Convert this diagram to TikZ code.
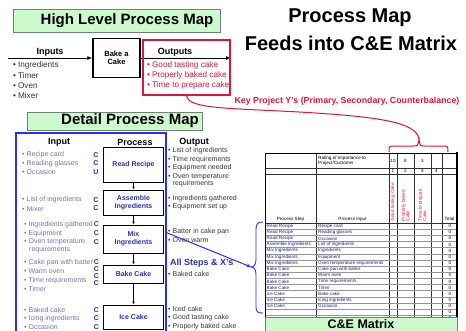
\documentclass[tikz,border=0pt]{standalone}
\usepackage{fontspec}
\setmainfont{Liberation Sans}
\usetikzlibrary{arrows.meta}
\definecolor{hdrgreen}{RGB}{204,250,204}
\definecolor{hdrline}{RGB}{110,130,110}
\definecolor{keyred}{RGB}{222,22,60}
\definecolor{mapblue}{RGB}{45,45,245}
\definecolor{stepblue}{RGB}{40,50,175}
\definecolor{ingray}{RGB}{115,120,165}
\definecolor{outgray}{RGB}{55,55,55}
\definecolor{rowblue}{RGB}{30,30,125}
\definecolor{gridgray}{RGB}{150,150,150}
\newcommand{\fs}[1]{\fontsize{#1}{#1}\selectfont}
\begin{document}
\begin{tikzpicture}[x=1pt,y=-1pt,
  banner/.style={draw=hdrline,fill=hdrgreen,line width=0.6pt},
  bannertext/.style={font=\bfseries\fs{15},inner sep=0},
  colhead/.style={font=\bfseries\fs{9},inner sep=0},
  hlitem/.style={font=\fs{8.2},text=outgray,inner sep=0,anchor=west},
  hlred/.style={font=\fs{8.2},text=keyred,inner sep=0,anchor=west},
  initem/.style={font=\fs{7},text=ingray,inner sep=0,anchor=west},
  outitem/.style={font=\fs{7},text=outgray,inner sep=0,anchor=west},
  rating/.style={font=\bfseries\fs{7},text=stepblue,inner sep=0},
  stepbox/.style={draw=black,line width=1pt,minimum width=60pt,align=center,
    font=\bfseries\fs{7},text=stepblue,inner sep=1pt},
  flow/.style={-{Latex[length=3pt,width=2.6pt]},line width=0.7pt},
  cell/.style={font=\fs{4.6},inner sep=0},
  cellline/.style={line width=0.5pt,draw=black!80},
  rowline/.style={line width=0.35pt,draw=gridgray},
  vhead/.style={font=\fs{4.6},text=keyred,inner sep=0,rotate=90,anchor=west,align=left}
]
\clip (0,0) rectangle (466,330);

% ---------- high level process map ----------
\draw[banner] (13,9) rectangle (220,32);
\node[bannertext] (hltitle) at (127,21) {High Level Process Map};

\node[draw=black,line width=1.2pt,minimum width=47pt,minimum height=39pt,
      align=center,font=\bfseries\fs{7.5},inner sep=0] (bake) at (116.5,58) {Bake a\\[1pt]Cake};
\coordinate (hlstart) at (8,58);
\coordinate (hlend) at (231,58);
\draw[line width=1pt,-{Latex[length=5pt,width=4pt]}] (hlstart) -- (bake.west);
\draw[line width=1pt,-{Latex[length=5pt,width=4pt]}] (bake.east) -- (hlend);
\node[draw=keyred,line width=1.4pt,minimum width=87pt,minimum height=55pt] (outbox) at (186.5,67.5) {};

\node[colhead,anchor=base] (hlin) at (50,54) {Inputs};
\node[colhead,anchor=base] (hlout) at (175,54) {Outputs};
\foreach \t [count=\i] in {Ingredients,Timer,Oven,Mixer}
  \node[hlitem] (hli\i) at (13,56+9.8*\i) {\textbullet\hspace{2pt}\t};
\foreach \t [count=\i] in {Good tasting cake,Properly baked cake,Time to prepare cake}
  \node[hlred] (hlo\i) at (147,56+9.8*\i) {\textbullet\hspace{2pt}\t};

% ---------- headline ----------
\node[font=\bfseries\fs{20},inner sep=0] (title1) at (350,18) {Process Map};
\node[font=\bfseries\fs{20},inner sep=0] (title2) at (351,43) {Feeds into C\&E Matrix};
\node[font=\bfseries\fs{8.8},text=keyred,inner sep=0] (keyy) at (347,101)
  {Key Project Y's (Primary, Secondary, Counterbalance)};

% red brace over the output columns
\coordinate (rtip) at (419,139);
\draw[keyred,line width=1pt] (389,152) .. controls (389,146) .. (395,146) -- (413,146)
  .. controls (418,146) .. (rtip) .. controls (420,146) .. (425,146) -- (442,146)
  .. controls (448,146) .. (448,152);
\draw[keyred,line width=1pt] (outbox.south) .. controls (188,107) and (215,108) .. (280,111)
  .. controls (380,116) and (416,122) .. (rtip);

% ---------- detail process map ----------
\draw[banner] (27,112) rectangle (202,130);
\node[bannertext] (dtitle) at (130,121) {Detail Process Map};
\draw[mapblue,line width=1.8pt] (16,345) -- (16,133) -- (166,133) -- (166,345);

\node[colhead] (dhin) at (59,142) {Input};
\node[colhead] (dhproc) at (135,142) {Process};
\node[colhead] (dhout) at (194,142) {Output};

\node[stepbox,minimum height=35pt] (s1) at (133.5,164.5) {Read Recipe};
\node[stepbox,minimum height=25pt] (s2) at (133.5,202.5) {Assemble\\[1pt]Ingredients};
\node[stepbox,minimum height=28pt] (s3) at (133.5,239) {Mix\\[1pt]Ingredients};
\node[stepbox,minimum height=18pt] (s4) at (133.5,274) {Bake Cake};
\node[stepbox,minimum height=24pt] (s5) at (133.5,317) {Ice Cake};
\foreach \a/\b in {s1/s2,s2/s3,s3/s4,s4/s5}
  \draw[flow] (\a) -- (\b);

% inputs with their C/U rating
\foreach \t/\y/\r [count=\i] in {Recipe card/155/C,Reading glasses/163.5/C,Occasion/172/U,
    List of ingredients/200/C,Mixer/208.5/C}
  {\node[initem] (din\i) at (22,\y) {\textbullet\hspace{2pt}\t};
   \node[rating] (dr\i) at (96,\y) {\r};}
\foreach \t/\y/\r [count=\i from 6] in {Ingredients gathered/224.5/C,Equipment/233.5/C,
    Oven temperature/242/C}
  {\node[initem] (din\i) at (24,\y) {\textbullet\hspace{2pt}\t};
   \node[rating] (dr\i) at (96.5,\y) {\r};}
\node[initem] (din9) at (29,249.5) {requirements};
\foreach \t/\y/\r [count=\i from 10] in {Cake pan with batter/263/C,Warm oven/271.5/C,
    Time requirements/280.5/C,Timer/289/C}
  {\node[initem] (din\i) at (24,\y) {\textbullet\hspace{2pt}\t};}
\foreach \y [count=\i] in {262,269,276,283}
  \node[rating] (dc\i) at (96.5,\y) {C};
\foreach \t/\y [count=\i from 14] in {Baked cake/310,Icing ingredients/318.5,Occasion/327}
  {\node[initem] (din\i) at (24,\y) {\textbullet\hspace{2pt}\t};
   \node[rating] (dr\i) at (96.5,\y) {C};}

% outputs of each step
\foreach \t/\y [count=\i] in {List of ingredients/151,Time requirements/159.5,
    Equipment needed/168,Oven temperature/176.5,
    Ingredients gathered/199,Equipment set up/207,
    Batter in cake pan/232,Oven warm/240.5,Baked cake/274,
    Iced cake/309,Good tasting cake/318,Properly baked cake/327}
  \node[outitem] (dout\i) at (168,\y) {\textbullet\hspace{2pt}\t};
\node[outitem] (doutcont) at (172.5,184) {requirements};
\node[font=\bfseries\fs{9},text=stepblue,inner sep=0,anchor=west] (allx) at (170,263) {All Steps \& X's};

% blue brace gathering the process inputs
\coordinate (btip) at (251,267);
\coordinate (mixout) at (165,232);
\draw[mapblue,line width=0.9pt] (263,222) .. controls (257,222) and (256,224) .. (256,231)
  -- (256,259) .. controls (256,265) and (254,267) .. (btip)
  .. controls (254,267) and (256,269) .. (256,275) -- (256,305)
  .. controls (256,312) and (257,313) .. (263,313);
\draw[mapblue,line width=1pt,-{Stealth[length=4.5pt,width=3.5pt]}] (mixout) -- (btip);

% ---------- cause and effect matrix ----------
\foreach \x in {316,389,397,414,431,442}
  \draw[cellline] (\x,153) -- (\x,335);
\foreach \y in {168,174,223}
  \draw[cellline] (265,\y) -- (457,\y);
\foreach \k in {1,...,17}
  \draw[rowline] (265,223+6.15*\k) -- (457,223+6.15*\k);
\draw[line width=0.8pt] (265,335) -- (265,153) -- (457,153);
\draw[line width=1.6pt] (457,152.2) -- (457,335);

\node[cell,anchor=north west,align=left] (rate) at (318,155.5) {Rating of Importance to\\[0.6pt]Project/Customer};
\foreach \v/\x [count=\i] in {10/393,8/405.5,3/422.5}
  \node[cell] (w\i) at (\x,160.5) {\v};
\foreach \v/\x [count=\i] in {1/393,2/405.5,3/422.5,4/436.5}
  \node[cell] (n\i) at (\x,171) {\v};
\node[cell,anchor=base] (hstep) at (290.5,220) {Process Step};
\node[cell,anchor=base] (hinput) at (352.5,220) {Process Input};
\node[cell,anchor=base] (htotal) at (449.5,220) {Total};
\node[vhead] (y1) at (393,221.5) {Good tasting Cake};
\node[vhead] (y2) at (405.5,221.5) {Properly baked\\Cake};
\node[vhead] (y3) at (422.5,221.5) {Time to prepare\\Cake};

\foreach \s/\p [count=\i] in {Read Recipe/Recipe card,Read Recipe/Reading glasses,
    Read Recipe/Occasion,Assemble Ingredients/List of ingredients,
    Mix Ingredients/Ingredients,Mix Ingredients/Equipment,
    Mix Ingredients/Oven temperature  requirements,Bake Cake/Cake pan with  batter,
    Bake Cake/Warm oven,Bake Cake/Time  requirements,Bake Cake/Timer,
    Ice Cake/Bake cake,Ice Cake/Icing ingredients,Ice Cake/Occasion}
  {\pgfmathsetmacro\yy{223+6.15*(\i-0.5)}
   \node[cell,text=rowblue,anchor=west] (ps\i) at (266.5,\yy) {\s};
   \node[cell,text=rowblue,anchor=west] (pi\i) at (318,\yy) {\p};}
\foreach \i in {1,...,16}
  {\pgfmathsetmacro\yy{223+6.15*(\i-0.5)}
   \node[cell] (tot\i) at (450,\yy) {0};}

\draw[banner] (265,317) rectangle (457,340);
\node[font=\bfseries\fs{12.5},inner sep=0,anchor=base] (cetitle) at (361,328) {C\&E Matrix};
\end{tikzpicture}
\end{document}
